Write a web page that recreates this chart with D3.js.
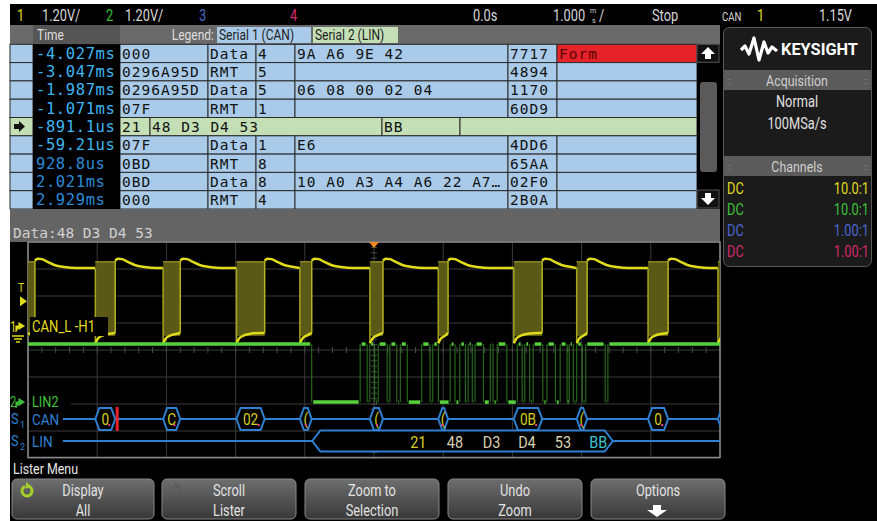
<!DOCTYPE html>
<html>
<head>
<meta charset="utf-8">
<script src="https://cdn.jsdelivr.net/npm/d3@7"></script>
<style>
body { margin: 0; background: #fff; }
svg { display: block; }
</style>
</head>
<body>
<div id="scope"></div>
<script>
// ---- lister table (one entry per row)
var listTime = ["-4.027ms","-3.047ms","-1.987ms","-1.071ms","-891.1us","-59.21us","928.8us","2.021ms","2.929ms"];
var listBus  = [1,1,1,1,2,1,1,1,1];
var listId   = ["000","0296A95D","0296A95D","07F","21","07F","0BD","0BD","000"];
var listType = ["Data","RMT","Data","RMT","","Data","RMT","Data","RMT"];
var listDlc  = ["4","5","5","1","","1","8","8","4"];
var listData = ["9A A6 9E 42","","06 08 00 02 04","","48 D3 D4 53","E6","","10 A0 A3 A4 A6 22 A7\u2026",""];
var listCrc  = ["7717","4894","1170","60D9","BB","4DD6","65AA","02F0","2B0A"];
var listErr  = ["Form","","","","","","","",""];

// ---- CAN frames seen on channel 1 / serial 1 (ms)
var canStart = [-5.2, -4.027, -3.047, -1.987, -1.071, -0.059, 0.929, 2.021, 2.929, 3.96, 4.97];
var canEnd   = [-4.90, -3.74, -2.80, -1.58, -0.90, 0.13, 1.07, 2.43, 3.08, 4.25, 5.3];
var canLabel = ["", "0", "C", "02", "(", "(", "(", "0B", "(", "0", ""];
var canError = [false, true, false, false, false, false, false, false, false, false, false];

// ch1 analog shape (volts)
var ch1Rec = 2.62, ch1Top = 2.9;
var bumpT = [0, 0.04, 0.1, 0.18, 0.28, 0.42, 0.6];
var bumpV = [2.95, 3.04, 3.02, 2.9, 2.76, 2.67, 2.62];
var domT  = [0, 0.04, 0.1, 0.2, 0.35];
var domV  = [-0.72, -0.5, -0.38, -0.3, -0.26];

// ---- LIN (channel 2) edges in ms, level starts high
var linEdges = [-0.90, -0.20, -0.10, -0.06, 0.01, 0.06, 0.19, 0.23, 0.33, 0.38, 0.48, 0.69, 0.81, 0.85, 0.93,
  1.10, 1.17, 1.24, 1.32, 1.36, 1.42, 1.46, 1.58, 1.68, 1.72, 1.78, 1.92, 2.07, 2.14, 2.18, 2.25, 2.30,
  2.44, 2.50, 2.62, 2.69, 2.79, 2.82, 2.88, 2.93, 3.01, 3.06, 3.34, 3.38];
var linHigh = 2.58, linLow = 0;
var linFrame = [-0.891, 3.45];
var linFields = ["21","48","D3","D4","53","BB"];
var linFieldT = [0.64, 1.17, 1.70, 2.21, 2.73, 3.24];
var linFieldKind = ["pid","data","data","data","data","crc"];

// ---- status line / side panel / softkeys
var chRatio = ["10.0:1","10.0:1","1.00:1","1.00:1"];
var chCoupling = ["DC","DC","DC","DC"];
var keyTop = ["Display","Scroll","Zoom to","Undo","Options"];
var keyBottom = ["All","Lister","Selection","Zoom",""];

var chColors = ["#e0dc1c","#3cc23a","#4a68d0","#d42a6c"];
var SANS = "Roboto, 'Open Sans', sans-serif";
var MONO = "'DejaVu Sans Mono', 'Liberation Mono', monospace";

var W = 877, H = 521;
var svg = d3.select("#scope").append("svg").attr("width", W).attr("height", H);
svg.append("rect").attr("width", W).attr("height", H).attr("fill", "#fff");
svg.append("rect").attr("x", 10).attr("y", 4).attr("width", W - 10).attr("height", H - 4).attr("fill", "#000");

//narrow text helper (scope font is condensed)
function ntext(g, x, y, s, size, fill, anchor, sx) {
  return g.append("text")
    .attr("transform", "translate(" + x + "," + y + ") scale(" + (sx || 0.8) + ",1)")
    .attr("font-family", SANS).attr("font-size", size).attr("fill", fill)
    .attr("text-anchor", anchor || "start").text(s);
}

// ---- status line
var st = svg.append("g");
ntext(st, 17, 21, "1", 16, chColors[0]);
ntext(st, 42, 21, "1.20V/", 16, "#d8d8d8");
ntext(st, 106, 21, "2", 16, chColors[1]);
ntext(st, 125, 21, "1.20V/", 16, "#d8d8d8");
ntext(st, 199, 21, "3", 16, chColors[2]);
ntext(st, 290, 21, "4", 16, chColors[3]);
ntext(st, 473, 21, "0.0s", 16, "#d8d8d8");
ntext(st, 553, 21, "1.000", 16, "#d8d8d8");
ntext(st, 590, 13, "m", 7, "#d8d8d8", "start", 1);
ntext(st, 592, 23, "s", 7, "#d8d8d8", "start", 1);
ntext(st, 599, 21, "/", 16, "#d8d8d8");
ntext(st, 652, 21, "Stop", 16, "#d8d8d8");
ntext(st, 722, 21, "CAN", 12, "#d8d8d8");
ntext(st, 757, 21, "1", 16, chColors[0]);
ntext(st, 852, 21, "1.15V", 16, "#d8d8d8", "end");

// ---- lister
var tbl = svg.append("g");
var rowY = d3.scaleLinear().domain([0, listTime.length]).range([44.3, 209]);
tbl.append("rect").attr("x", 10).attr("y", 25).attr("width", 710).attr("height", 19.3).attr("fill", "#6a6a6a");
tbl.append("rect").attr("x", 33).attr("y", 25).attr("width", 87).attr("height", 19.3).attr("fill", "#555");
ntext(tbl, 37, 40, "Time", 15, "#dcdcdc");
ntext(tbl, 214, 40, "Legend:", 15, "#dcdcdc", "end");
tbl.append("rect").attr("x", 217).attr("y", 27).attr("width", 94).attr("height", 16).attr("fill", "#a9cbe9");
ntext(tbl, 219, 40, "Serial 1 (CAN)", 15, "#222");
tbl.append("rect").attr("x", 313).attr("y", 27).attr("width", 85).attr("height", 16).attr("fill", "#c4dfb6");
ntext(tbl, 315, 40, "Serial 2 (LIN)", 15, "#222");

listTime.forEach(function(t, i) {
  var y0 = rowY(i), h = rowY(i + 1) - rowY(i);
  var bg = listBus[i] == 2 ? "#c4dfb6" : "#a9cbe9";
  var cells;
  if (listBus[i] == 1) {
    cells = [[10,33,""],[120,208,listId[i]],[208,256,listType[i]],[256,295,listDlc[i]],
             [295,508,listData[i]],[508,557,listCrc[i]],[557,697,listErr[i]]];
  } else {
    cells = [[10,33,""],[120,150,listId[i]],[150,382,listData[i]],[382,460,listCrc[i]],[460,697,""]];
  }
  cells.forEach(function(c, k) {
    var err = listBus[i] == 1 && k == 6 && c[2] != "";
    tbl.append("rect").attr("x", c[0]).attr("y", y0).attr("width", c[1] - c[0]).attr("height", h)
      .attr("fill", err ? "#e6232b" : bg).attr("stroke", "#2b2b2b").attr("stroke-width", 1);
    if (c[2] != "") {
      tbl.append("text").attr("x", c[0] + 2).attr("y", y0 + 14.5)
        .attr("font-family", MONO).attr("font-size", 14.5).attr("letter-spacing", 1)
        .attr("fill", err ? "#5a0000" : "#111").text(c[2]);
    }
  });
  tbl.append("rect").attr("x", 33).attr("y", y0).attr("width", 87).attr("height", h).attr("fill", "#000");
  tbl.append("text").attr("x", 36).attr("y", y0 + 14.5)
    .attr("font-family", MONO).attr("font-size", 15.5).attr("letter-spacing", 0.6)
    .attr("fill", parseFloat(t) < 0 ? "#3fb5f0" : "#2a8ad6").text(t);
  if (listBus[i] == 2) {
    tbl.append("path").attr("d", "M" + 14 + "," + (y0 + 6.5) + "h5v-3l6,5.5l-6,5.5v-3h-5z").attr("fill", "#111");
  }
});

// scroll bar
tbl.append("rect").attr("x", 697).attr("y", 44.3).attr("width", 22).attr("height", 164.7).attr("fill", "#000");
tbl.append("rect").attr("x", 700).attr("y", 82).attr("width", 17).attr("height", 90).attr("rx", 3).attr("fill", "#5a5a5a");
tbl.append("rect").attr("x", 697).attr("y", 44.3).attr("width", 22).attr("height", 18).attr("fill", "#111").attr("stroke", "#555");
tbl.append("rect").attr("x", 697).attr("y", 190).attr("width", 22).attr("height", 18).attr("fill", "#111").attr("stroke", "#555");
tbl.append("path").attr("d", "M708,47 l7,7 h-4 v5 h-6 v-5 h-4 z").attr("fill", "#fff");
tbl.append("path").attr("d", "M708,205 l7,-7 h-4 v-5 h-6 v5 h-4 z").attr("fill", "#fff");

// data bar
tbl.append("rect").attr("x", 10).attr("y", 209).attr("width", 710).attr("height", 33).attr("fill", "#646464");
tbl.append("text").attr("x", 13).attr("y", 238).attr("font-family", MONO).attr("font-size", 14.5)
  .attr("fill", "#d0d0d0").text("Data:48 D3 D4 53");

// ---- waveform area
var x = d3.scaleLinear().domain([-5, 5]).range([28, 720]);
var yd = d3.scaleLinear().domain([-4, 4]).range([458, 242]);
var y1 = function(v) { return yd(v / 1.2 + 0.85); };
var y2 = function(v) { return yd(v / 1.2 - 1.93); };

var wave = svg.append("g");
svg.append("clipPath").attr("id", "gridclip").append("rect")
  .attr("x", 28).attr("y", 242).attr("width", 692).attr("height", 216);

var grid = wave.append("g").attr("stroke", "#3a3a3a").attr("stroke-width", 1);
d3.range(-5, 6).forEach(function(t) {
  grid.append("line").attr("x1", x(t)).attr("x2", x(t)).attr("y1", 242).attr("y2", 458);
});
d3.range(-4, 5).forEach(function(d) {
  grid.append("line").attr("x1", 28).attr("x2", 720).attr("y1", yd(d)).attr("y2", yd(d));
});
d3.range(-5, 5.01, 0.2).forEach(function(t) {
  grid.append("line").attr("x1", x(t)).attr("x2", x(t)).attr("y1", yd(0) - 3).attr("y2", yd(0) + 3).attr("stroke", "#4a4a4a");
});
d3.range(-4, 4.01, 0.2).forEach(function(d) {
  grid.append("line").attr("x1", x(0) - 3).attr("x2", x(0) + 3).attr("y1", yd(d)).attr("y2", yd(d)).attr("stroke", "#4a4a4a");
});
wave.append("rect").attr("x", 28).attr("y", 242).attr("width", 692).attr("height", 215.5)
  .attr("fill", "none").attr("stroke", "#8a8a8a").attr("stroke-width", 1.5);

var plot = wave.append("g").attr("clip-path", "url(#gridclip)");
var line = d3.line().x(function(d) { return x(d[0]); }).y(function(d) { return y1(d[1]); }).curve(d3.curveMonotoneX);

// ch1 bursts
canStart.forEach(function(s, i) {
  var e = canEnd[i];
  plot.append("rect").attr("x", x(s)).attr("y", y1(ch1Top)).attr("width", x(e) - x(s))
    .attr("height", y1(-0.4) - y1(ch1Top)).attr("fill", "#5b5916");
  plot.append("line").attr("x1", x(s)).attr("x2", x(s)).attr("y1", y1(ch1Rec)).attr("y2", y1(domV[0]))
    .attr("stroke", "#a8a41c").attr("stroke-width", 1.5);
  var dom = [];
  domT.forEach(function(dt, k) { if (s + dt <= e) dom.push([s + dt, domV[k]]); });
  dom.push([e, domV[domV.length - 1]]);
  plot.append("path").attr("d", line(dom)).attr("fill", "none").attr("stroke", chColors[0]).attr("stroke-width", 2.5);
  plot.append("line").attr("x1", x(s)).attr("x2", x(e)).attr("y1", y1(ch1Top)).attr("y2", y1(ch1Top))
    .attr("stroke", "#8d8a1e").attr("stroke-width", 1.5);
  // recessive trace up to next frame
  var next = i + 1 < canStart.length ? canStart[i + 1] : 5.5;
  var rec = [];
  bumpT.forEach(function(dt, k) { if (e + dt < next) rec.push([e + dt, bumpV[k]]); });
  rec.push([next, ch1Rec]);
  if (rec.length > 1) {
    plot.append("path").attr("d", line(rec)).attr("fill", "none").attr("stroke", chColors[0]).attr("stroke-width", 2.5);
  }
  plot.append("line").attr("x1", x(e)).attr("x2", x(e)).attr("y1", y1(bumpV[0])).attr("y2", y1(domV[domV.length - 1]))
    .attr("stroke", "#b8b420").attr("stroke-width", 1.5);
});

// ch2 LIN
var lvl = 1, prev = -5.5, segs = [];
linEdges.concat([5.5]).forEach(function(t) {
  segs.push([prev, t, lvl]);
  prev = t; lvl = 1 - lvl;
});
linEdges.forEach(function(t) {
  plot.append("line").attr("x1", x(t)).attr("x2", x(t)).attr("y1", y2(linHigh)).attr("y2", y2(linLow))
    .attr("stroke", "#2e7a20").attr("stroke-width", 1);
});
segs.forEach(function(s) {
  var yy = y2(s[2] ? linHigh : linLow);
  plot.append("line").attr("x1", x(s[0]) + 1.5).attr("x2", x(s[1]) - 1.5).attr("y1", yy).attr("y2", yy)
    .attr("stroke", "#55d13c").attr("stroke-width", 3.5);
});

// trigger marker
wave.append("path").attr("d", "M" + (x(0) - 5) + ",242 h10 l-5,6 z").attr("fill", "#f08a24");

// serial decode
var blue = "#2e80d2";
var ys1 = 419, ys2 = 441;
var dec = wave.append("g").attr("clip-path", "url(#gridclip)");
function hexa(x0, x1, yc, hh, a) {
  return "M" + x0 + "," + yc + "L" + (x0 + a) + "," + (yc - hh) + "L" + (x1 - a) + "," + (yc - hh) +
    "L" + x1 + "," + yc + "L" + (x1 - a) + "," + (yc + hh) + "L" + (x0 + a) + "," + (yc + hh) + "Z";
}
dec.append("line").attr("x1", 63).attr("x2", 720).attr("y1", ys1).attr("y2", ys1).attr("stroke", blue).attr("stroke-width", 2);
canStart.forEach(function(s, i) {
  var x0 = x(s), x1 = x(canEnd[i]);
  if (x1 < 63) return;
  dec.append("path").attr("d", hexa(x0, x1, ys1, 11, 4)).attr("fill", "#000").attr("stroke", blue).attr("stroke-width", 2);
  if (canLabel[i] != "") {
    ntext(dec, (x0 + x1) / 2, ys1 + 6, canLabel[i], 16, "#d6cf22", "middle", 0.85);
    dec.append("rect").attr("x", x1 - 7).attr("y", ys1 + 5).attr("width", 2).attr("height", 2).attr("fill", "#e0408a");
  }
  if (canError[i]) {
    dec.append("line").attr("x1", x1 + 2).attr("x2", x1 + 2).attr("y1", ys1 - 12).attr("y2", ys1 + 12)
      .attr("stroke", "#e8202a").attr("stroke-width", 3);
  }
});
dec.append("line").attr("x1", 63).attr("x2", x(linFrame[0])).attr("y1", ys2).attr("y2", ys2).attr("stroke", blue).attr("stroke-width", 2);
dec.append("line").attr("x1", x(linFrame[1])).attr("x2", 720).attr("y1", ys2).attr("y2", ys2).attr("stroke", blue).attr("stroke-width", 2);
dec.append("path").attr("d", hexa(x(linFrame[0]), x(linFrame[1]), ys2, 10.5, 8)).attr("fill", "#000")
  .attr("stroke", blue).attr("stroke-width", 2);
var fieldColor = { pid: "#d6cf22", data: "#d8d2b2", crc: "#3cc6d2" };
linFields.forEach(function(f, i) {
  ntext(dec, x(linFieldT[i]), ys2 + 6.5, f, 17, fieldColor[linFieldKind[i]], "middle", 0.85);
});

// channel markers and labels
var mk = wave.append("g");
ntext(mk, 18, 292, "T", 13, chColors[0]);
mk.append("path").attr("d", "M20," + (y1(1.15) - 5) + " l7,5 l-7,5 z").attr("fill", chColors[0]);
ntext(mk, 10, y1(0) + 5, "1", 14, chColors[0]);
mk.append("path").attr("d", "M16," + (y1(0) + 5) + " v-6 h4 M19," + (y1(0) - 4) + " l5,3 l-5,3 z")
  .attr("stroke", chColors[0]).attr("fill", chColors[0]).attr("stroke-width", 1.2);
mk.append("path").attr("d", "M12," + (y1(0) + 9) + " h12 M14," + (y1(0) + 12) + " h8 M16," + (y1(0) + 15) + " h4")
  .attr("stroke", chColors[0]).attr("stroke-width", 1.5);
mk.append("rect").attr("x", 30).attr("y", y1(0) - 10).attr("width", 78).attr("height", 19).attr("fill", "#000");
ntext(mk, 32, y1(0) + 5, "CAN_L -H1", 16, chColors[0], "start", 0.82);

ntext(mk, 10, y2(0) + 5, "2", 14, chColors[1]);
mk.append("path").attr("d", "M16," + (y2(0) + 6) + " v-6 h4 M19," + (y2(0) - 3) + " l5,3 l-5,3 z")
  .attr("stroke", chColors[1]).attr("fill", chColors[1]).attr("stroke-width", 1.2);
mk.append("rect").attr("x", 30).attr("y", y2(0) - 7).attr("width", 41).attr("height", 13).attr("fill", "#000");
ntext(mk, 32, y2(0) + 5, "LIN2", 15, chColors[1], "start", 0.85);

ntext(mk, 11, ys1 + 5, "S", 15, blue, "start", 0.85);
ntext(mk, 20, ys1 + 9, "1", 9, blue, "start", 1);
ntext(mk, 32, ys1 + 6, "CAN", 15, blue, "start", 0.9);
ntext(mk, 11, ys2 + 5, "S", 15, blue, "start", 0.85);
ntext(mk, 20, ys2 + 9, "2", 9, blue, "start", 1);
ntext(mk, 32, ys2 + 6, "LIN", 15, blue, "start", 0.9);

// ---- side panel
var pn = svg.append("g");
pn.append("rect").attr("x", 723.5).attr("y", 27.5).attr("width", 148).attr("height", 239).attr("rx", 6)
  .attr("fill", "#1b1b1b").attr("stroke", "#5a5a5a");
pn.append("polyline").attr("points", "741,50 745,46 749,54 754,38 759,60 764,42 768,53 772,47 777,51")
  .attr("fill", "none").attr("stroke", "#fff").attr("stroke-width", 3.2).attr("stroke-linejoin", "round");
pn.append("text").attr("x", 781).attr("y", 55).attr("font-family", SANS).attr("font-weight", "bold")
  .attr("font-size", 17).attr("fill", "#fff").attr("textLength", 77).attr("lengthAdjust", "spacingAndGlyphs").text("KEYSIGHT");
[["Acquisition", 70], ["Channels", 156]].forEach(function(hd) {
  pn.append("rect").attr("x", 724).attr("y", hd[1]).attr("width", 147).attr("height", 20).attr("fill", "#5b5b5b");
  ntext(pn, 797, hd[1] + 15.5, hd[0], 15.5, "#cfcfcf", "middle");
  [729, 866].forEach(function(gx) {
    pn.append("text").attr("x", gx).attr("y", hd[1] + 14).attr("font-family", SANS).attr("font-size", 9)
      .attr("fill", "#999").attr("text-anchor", "middle").text("::");
  });
});
ntext(pn, 797, 107, "Normal", 16, "#e0e0e0", "middle");
ntext(pn, 797, 129, "100MSa/s", 16, "#e0e0e0", "middle");
chRatio.forEach(function(r, i) {
  var yy = 193.5 + i * 21;
  ntext(pn, 727, yy, chCoupling[i], 16, chColors[i]);
  ntext(pn, 869, yy, r, 16, chColors[i], "end");
});

// ---- softkeys
var sk = svg.append("g");
ntext(sk, 13, 474, "Lister Menu", 15.5, "#e8e8e8");
var grad = svg.append("defs").append("linearGradient").attr("id", "keygrad").attr("x1", 0).attr("x2", 0).attr("y1", 0).attr("y2", 1);
grad.append("stop").attr("offset", "0%").attr("stop-color", "#6e6e6e");
grad.append("stop").attr("offset", "100%").attr("stop-color", "#383838");
var keyX = d3.scaleLinear().domain([1, 4]).range([162, 591]);
keyTop.forEach(function(k, i) {
  var x0 = i == 0 ? 12 : keyX(i), w = i == 0 ? 142 : 134;
  sk.append("rect").attr("x", x0).attr("y", 479).attr("width", w).attr("height", 40).attr("rx", 5)
    .attr("fill", "url(#keygrad)").attr("stroke", "#888").attr("stroke-width", 1);
  var cx = x0 + w / 2;
  ntext(sk, cx, 496, k, 16, "#e2e2e2", "middle");
  if (keyBottom[i] != "") ntext(sk, cx, 516, keyBottom[i], 16, "#e2e2e2", "middle");
});
// key icons
[[27, "#a5cf2a", 3], [176, "#5a5a5a", 1.5]].forEach(function(ic) {
  var arc = d3.arc().innerRadius(5).outerRadius(5 + ic[2] * 0.01).startAngle(0.6).endAngle(5.6);
  sk.append("path").attr("transform", "translate(" + ic[0] + ",491)").attr("d", arc())
    .attr("fill", "none").attr("stroke", ic[1]).attr("stroke-width", ic[2]);
  sk.append("path").attr("transform", "translate(" + ic[0] + ",491)").attr("d", "M-1,-9 l5,4 l-5,3 z").attr("fill", ic[1]);
});
sk.append("path").attr("d", "M657,517 l-10,-7 h6 v-5 h8 v5 h6 z").attr("fill", "#fff");
</script>
</body>
</html>
